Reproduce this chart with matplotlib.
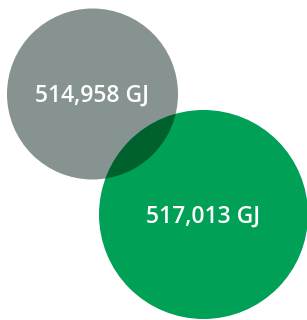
import matplotlib
matplotlib.use("Agg")
import matplotlib.pyplot as plt
from matplotlib.patches import Circle

labels = ["514,958 GJ", "517,013 GJ"]
values = [514958, 517013]
colors = ["#879390", "#00a056"]
overlap_color = "#00612f"

centers = [(92.5, 94), (203.5, 214.5)]
radii = [85.5, 104.5]

fig = plt.figure(figsize=(3.07, 3.20), dpi=100)
ax = fig.add_axes([0, 0, 1, 1])
ax.set_xlim(0, 307)
ax.set_ylim(320, 0)
ax.set_aspect("equal")
ax.axis("off")

patches = []
for (c, r, col) in zip(centers, radii, colors):
    p = Circle(c, r, facecolor=col, edgecolor="none")
    ax.add_patch(p)
    patches.append(p)

ov = Circle(centers[1], radii[1], facecolor=overlap_color, edgecolor="none")
ax.add_patch(ov)
ov.set_clip_path(patches[0])

text_pos = [(92, 96), (203.5, 217)]
for (x, y), lab in zip(text_pos, labels):
    ax.text(x, y, lab, color="white", fontsize=16.5, family="Open Sans",
            fontweight="semibold", ha="center", va="center")

fig.savefig("out.png", dpi=100)
